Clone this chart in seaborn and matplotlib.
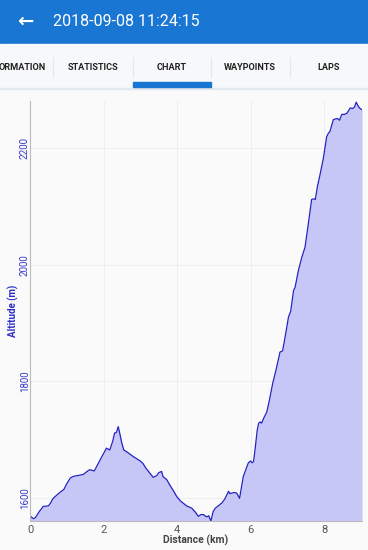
import matplotlib
matplotlib.use('Agg')
import matplotlib.pyplot as plt
import matplotlib.patches as mpatches
import seaborn as sns
import pandas as pd

# elevation profile
distance_km = [0.00, 0.05, 0.10, 0.15, 0.25, 0.36, 0.50, 0.55, 0.62, 0.72, 0.83, 0.92,
               1.00, 1.10, 1.20, 1.30, 1.45, 1.55, 1.62, 1.75, 1.85, 1.95, 2.08, 2.17,
               2.25, 2.30, 2.35, 2.40, 2.45, 2.50, 2.55, 2.65, 2.80, 2.90, 3.00, 3.07,
               3.15, 3.25, 3.35, 3.45, 3.50, 3.58, 3.62, 3.72, 3.80, 3.90, 3.99, 4.10,
               4.26, 4.40, 4.50, 4.58, 4.65, 4.72, 4.80, 4.86, 4.92, 4.98, 5.04, 5.12,
               5.22, 5.30, 5.40, 5.44, 5.55, 5.62, 5.70, 5.80, 5.88, 5.94, 6.00, 6.04,
               6.08, 6.12, 6.18, 6.22, 6.26, 6.30, 6.36, 6.44, 6.51, 6.60, 6.69, 6.80,
               6.87, 6.95, 7.03, 7.09, 7.17, 7.21, 7.30, 7.39, 7.48, 7.57, 7.66, 7.72,
               7.76, 7.82, 7.89, 7.98, 8.07, 8.12, 8.16, 8.25, 8.30, 8.36, 8.42, 8.48,
               8.55, 8.62, 8.71, 8.78, 8.83, 8.87, 8.93, 8.98, 9.03]
altitude_m = [1569, 1566, 1564, 1566, 1576, 1585, 1586, 1590, 1598, 1604, 1610, 1614,
              1624, 1634, 1637, 1638, 1640, 1645, 1648, 1646, 1658, 1670, 1685, 1682,
              1697, 1711, 1712, 1722, 1708, 1693, 1682, 1678, 1671, 1667, 1663, 1659,
              1651, 1643, 1635, 1638, 1643, 1645, 1636, 1631, 1622, 1612, 1602, 1594,
              1586, 1582, 1575, 1568, 1571, 1571, 1567, 1569, 1560, 1576, 1582, 1586,
              1591, 1598, 1611, 1607, 1609, 1608, 1599, 1636, 1650, 1660, 1663, 1660,
              1662, 1682, 1716, 1728, 1730, 1728, 1737, 1747, 1767, 1796, 1819, 1850,
              1852, 1880, 1910, 1920, 1956, 1961, 1990, 2012, 2030, 2070, 2112, 2113,
              2112, 2135, 2155, 2183, 2220, 2226, 2229, 2249, 2250, 2251, 2248, 2258,
              2258, 2260, 2269, 2268, 2271, 2279, 2272, 2268, 2266]

x_ticks = [0, 2, 4, 6, 8]
y_ticks = [1600, 1800, 2000, 2200]
tabs = ["ORMATION", "STATISTICS", "CHART", "WAYPOINTS", "LAPS"]
title = "2018-09-08 11:24:15"

sns.set_style("white")
plt.rcParams['font.family'] = ['Roboto', 'DejaVu Sans']

df = pd.DataFrame({"dist": distance_km, "alt": altitude_m})

fig = plt.figure(figsize=(3.68, 5.5), dpi=100, facecolor='#fafafa')

# app bar
fig.patches.append(mpatches.Rectangle((0, 1 - 44/550), 1, 44/550, transform=fig.transFigure,
                                      color='#1976d2', zorder=0))
fig.text(25/368, 1 - 21/550, "\u2190", color='white', fontsize=14, fontweight='bold',
         ha='center', va='center', family=['DejaVu Sans'])
fig.text(53/368, 1 - 21/550, title, color='white', fontsize=11.5, ha='left', va='center')

# tab bar
fig.patches.append(mpatches.Rectangle((0, 1 - 88/550), 1, 44/550, transform=fig.transFigure,
                                      color='#f6f8fa', zorder=0))
fig.patches.append(mpatches.Rectangle((0, 1 - 89/550), 1, 1.2/550, transform=fig.transFigure,
                                      color='#e3e8ee', zorder=0))
tab_centers = [22, 93, 172, 250, 329]
for name, cx in zip(tabs, tab_centers):
    fig.text(cx/368, 1 - 67/550, name, color='#222222', fontsize=6.6, fontweight='bold',
             ha='center', va='center')
for sx in [53, 133, 211, 290]:
    fig.lines.append(plt.Line2D([sx/368, sx/368], [1 - 57/550, 1 - 77/550],
                                transform=fig.transFigure, color='#e3e8ee', lw=0.8))
fig.patches.append(mpatches.Rectangle((133/368, 1 - 87/550), 78/368, 5/550,
                                      transform=fig.transFigure, color='#1976d2', zorder=1))

# chart
ax = fig.add_axes([30/368, 1 - 521/550, 332/368, 420/550])
ax.set_facecolor('#fafafa')
ax.fill_between(df["dist"], df["alt"], 1500, color='#c6c6f7', lw=0)
sns.lineplot(data=df, x="dist", y="alt", ax=ax, color='#2323c0', lw=0.9)

ax.set_xlim(0, 9.03)
ax.set_ylim(1560, 2281)
ax.set_xticks(x_ticks)
ax.set_yticks(y_ticks)
ax.grid(True, color='#ececec', lw=0.6)
ax.set_axisbelow(True)
for side in ['top', 'right']:
    ax.spines[side].set_visible(False)
for side in ['left', 'bottom']:
    ax.spines[side].set_color('#bbbbbb')
    ax.spines[side].set_linewidth(0.8)

ax.tick_params(axis='x', length=0, pad=3, labelsize=8, labelcolor='#555555')
ax.tick_params(axis='y', length=0, pad=0, labelsize=7, labelcolor='#3a3ac8')
for lab in ax.get_yticklabels():
    lab.set_rotation(90)
    lab.set_va('center')

ax.set_xlabel("Distance (km)", fontsize=7.5, fontweight='bold', color='#444444', labelpad=0)
ax.set_ylabel("Altitude (m)", fontsize=7, fontweight='bold', color='#2b2bc8', va='center')
ax.yaxis.set_label_coords(-17/332, 0.5)

fig.savefig('out.png', dpi=100, facecolor=fig.get_facecolor())
